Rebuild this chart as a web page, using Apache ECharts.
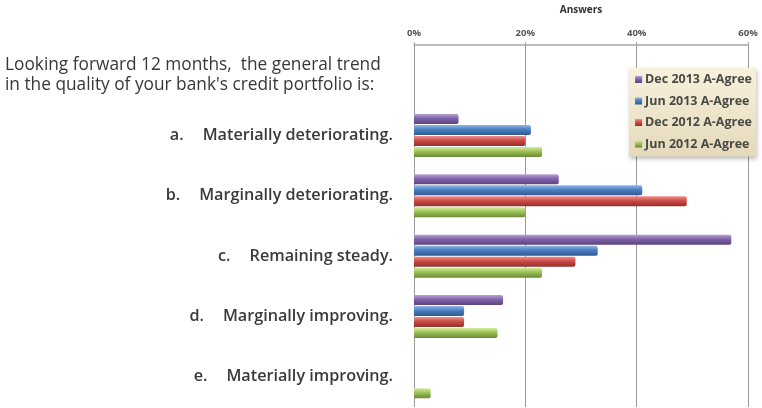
<!DOCTYPE html>
<html>
<head>
<meta charset="utf-8">
<script src="https://cdn.jsdelivr.net/npm/echarts@6/dist/echarts.min.js"></script>
<style>
  html, body { margin: 0; padding: 0; background: #ffffff; }
  #chart { width: 762px; height: 408px; }
</style>
</head>
<body>
<div id="chart"></div>
<script>
// Survey question and answer options (first row holds the question itself)
const categories = [
  "Looking forward 12 months,  the general trend\nin the quality of your bank's credit portfolio is:",
  "a. Materially deteriorating.",
  "b. Marginally deteriorating.",
  "c. Remaining steady.",
  "d. Marginally improving.",
  "e. Materially improving."
];

const seriesNames = ["Dec 2013 A-Agree", "Jun 2013 A-Agree", "Dec 2012 A-Agree", "Jun 2012 A-Agree"];

// Share of answers, percent
const dec2013 = [null, 8, 26, 57, 16, 0];
const jun2013 = [null, 21, 41, 33, 9, 0];
const dec2012 = [null, 20, 49, 29, 9, 0];
const jun2012 = [null, 23, 20, 23, 15, 3];

const tickLabels = ["0%", "20%", "40%", "60%"];

const palette = [
  ["#b7a3d6", "#7f62a8", "#5b437f"],
  ["#8fb6e6", "#4a7fc1", "#2f5a91"],
  ["#ee908d", "#cc4a46", "#922f2c"],
  ["#d4ec9c", "#9bc156", "#6c8a37"]
];

function barFill(c) {
  return {
    type: 'linear', x: 0, y: 0, x2: 0, y2: 1,
    colorStops: [
      { offset: 0, color: c[0] },
      { offset: 0.45, color: c[1] },
      { offset: 1, color: c[2] }
    ]
  };
}

const values = [dec2013, jun2013, dec2012, jun2012];
const FONT = '"Open Sans", sans-serif';

const chart = echarts.init(document.getElementById('chart'), null, { renderer: 'canvas' });

chart.setOption({
  animation: false,
  textStyle: { fontFamily: FONT },
  grid: { left: 414, right: 14, top: 44, bottom: 1, containLabel: false },
  legend: {
    orient: 'vertical',
    right: 6,
    top: 68,
    itemWidth: 7,
    itemHeight: 7,
    itemGap: 8.5,
    padding: [5, 4, 6, 6],
    icon: 'rect',
    data: seriesNames,
    textStyle: { fontSize: 12.5, fontWeight: 'bold', color: '#4a4a44', fontFamily: FONT, lineHeight: 12.5, padding: [0, 0, 0, -2] },
    backgroundColor: {
      type: 'linear', x: 0, y: 0, x2: 0, y2: 1,
      colorStops: [
        { offset: 0, color: '#f8f1dc' },
        { offset: 1, color: '#e4d9bb' }
      ]
    },
    shadowColor: 'rgba(0,0,0,0.25)',
    shadowBlur: 4,
    shadowOffsetX: 1,
    shadowOffsetY: 2
  },
  xAxis: {
    type: 'value',
    position: 'top',
    min: 0,
    max: 60,
    interval: 20,
    name: 'Answers',
    nameLocation: 'middle',
    nameGap: 30,
    nameTextStyle: { fontSize: 10, fontWeight: 'bold', color: '#333', fontFamily: FONT },
    axisLine: { show: true, lineStyle: { color: '#a8a8a8', width: 1.5 } },
    axisTick: { show: true, length: 3, lineStyle: { color: '#a8a8a8' } },
    axisLabel: {
      fontSize: 9.5, fontWeight: 'bold', color: '#555', margin: 7, fontFamily: FONT,
      formatter: function (v) { return tickLabels[Math.round(v / 20)]; }
    },
    splitLine: { show: true, lineStyle: { color: '#9a9a9a', width: 1 } }
  },
  yAxis: {
    type: 'category',
    inverse: true,
    data: categories,
    axisLine: { show: false },
    axisTick: { show: false },
    axisLabel: {
      margin: 21,
      color: '#3a3a3a',
      formatter: function (v, i) {
        if (i === 0) return '{q|' + v.split('\n').join('}\n{q|') + '}';
        const sp = v.indexOf(' ');
        return '{k|' + v.slice(0, sp) + '}{t|' + v.slice(sp + 1) + '}';
      },
      rich: {
        q: { width: 388, align: 'left', fontSize: 17.3, fontWeight: 500, color: '#383838', lineHeight: 20, fontFamily: FONT },
        k: { fontSize: 16.2, fontWeight: 600, color: '#3a3a3a', padding: [0, 19, 0, 0], fontFamily: FONT },
        t: { fontSize: 16.2, fontWeight: 600, color: '#3a3a3a', fontFamily: FONT }
      }
    }
  },
  series: seriesNames.map(function (name, s) {
    return {
      name: name,
      type: 'bar',
      data: values[s],
      barWidth: 10,
      barGap: '10%',
      itemStyle: { color: barFill(palette[s]), borderRadius: [0, 2, 2, 0] }
    };
  })
});
</script>
</body>
</html>
